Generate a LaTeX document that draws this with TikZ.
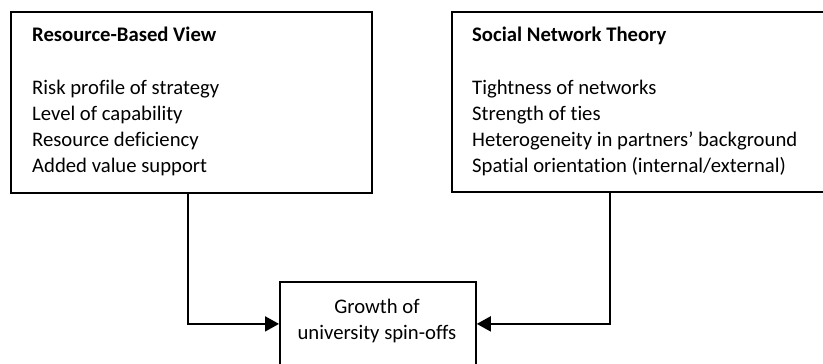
\documentclass[tikz,border=0pt]{standalone}
\usepackage{fontspec}
\setmainfont{Carlito}[Ligatures=NoCommon]
\usetikzlibrary{arrows.meta}
\begin{document}
\begin{tikzpicture}[x=1pt,y=-1pt,
  frame/.style={draw=black,line width=1.8pt,rectangle,inner sep=0pt,anchor=north west},
  txt/.style={anchor=base west,inner sep=0pt,font=\fontsize{20.7}{24}\selectfont},
  ctr/.style={anchor=base,inner sep=0pt,font=\fontsize{20.7}{24}\selectfont},
  link/.style={draw=black,line width=1.8pt,-{Triangle[length=14pt,width=15pt]}}]
\useasboundingbox (0,0) rectangle (823,364);

% theory boxes
\node[frame,minimum width=361pt,minimum height=181pt] (rbv) at (10,11) {};
\node[frame,minimum width=380pt,minimum height=180pt] (snt) at (451,11) {};
% outcome box
\node[frame,minimum width=196pt,minimum height=84pt] (grow) at (279,281) {};

% Resource-Based View
\node[txt,font=\fontsize{20.7}{24}\selectfont\bfseries] (r0) at (32,41.7) {Resource-Based View};
\node[txt] (r1) at (32,94) {Risk profile of strategy};
\node[txt] (r2) at (32,120) {Level of capability};
\node[txt] (r3) at (32,146) {Resource deficiency};
\node[txt] (r4) at (32,172) {Added value support};

% Social Network Theory
\node[txt,font=\fontsize{20.7}{24}\selectfont\bfseries] (s0) at (472,41.7) {Social Network Theory};
\node[txt] (s1) at (472,94) {Tightness of networks};
\node[txt] (s2) at (472,120) {Strength of ties};
\node[txt] (s3) at (472,146) {Heterogeneity in partners’ background};
\node[txt] (s4) at (472,172) {Spatial orientation (internal/external)};

% outcome text
\node[ctr] (g1) at (377,313) {Growth of};
\node[ctr] (g2) at (377,339) {university spin-offs};

% connectors
\coordinate (lx) at (188,0);
\coordinate (rx) at (610,0);
\draw[link] (rbv.south -| lx) |- (grow.west);
\draw[link] (snt.south -| rx) |- (grow.east);
\end{tikzpicture}
\end{document}
